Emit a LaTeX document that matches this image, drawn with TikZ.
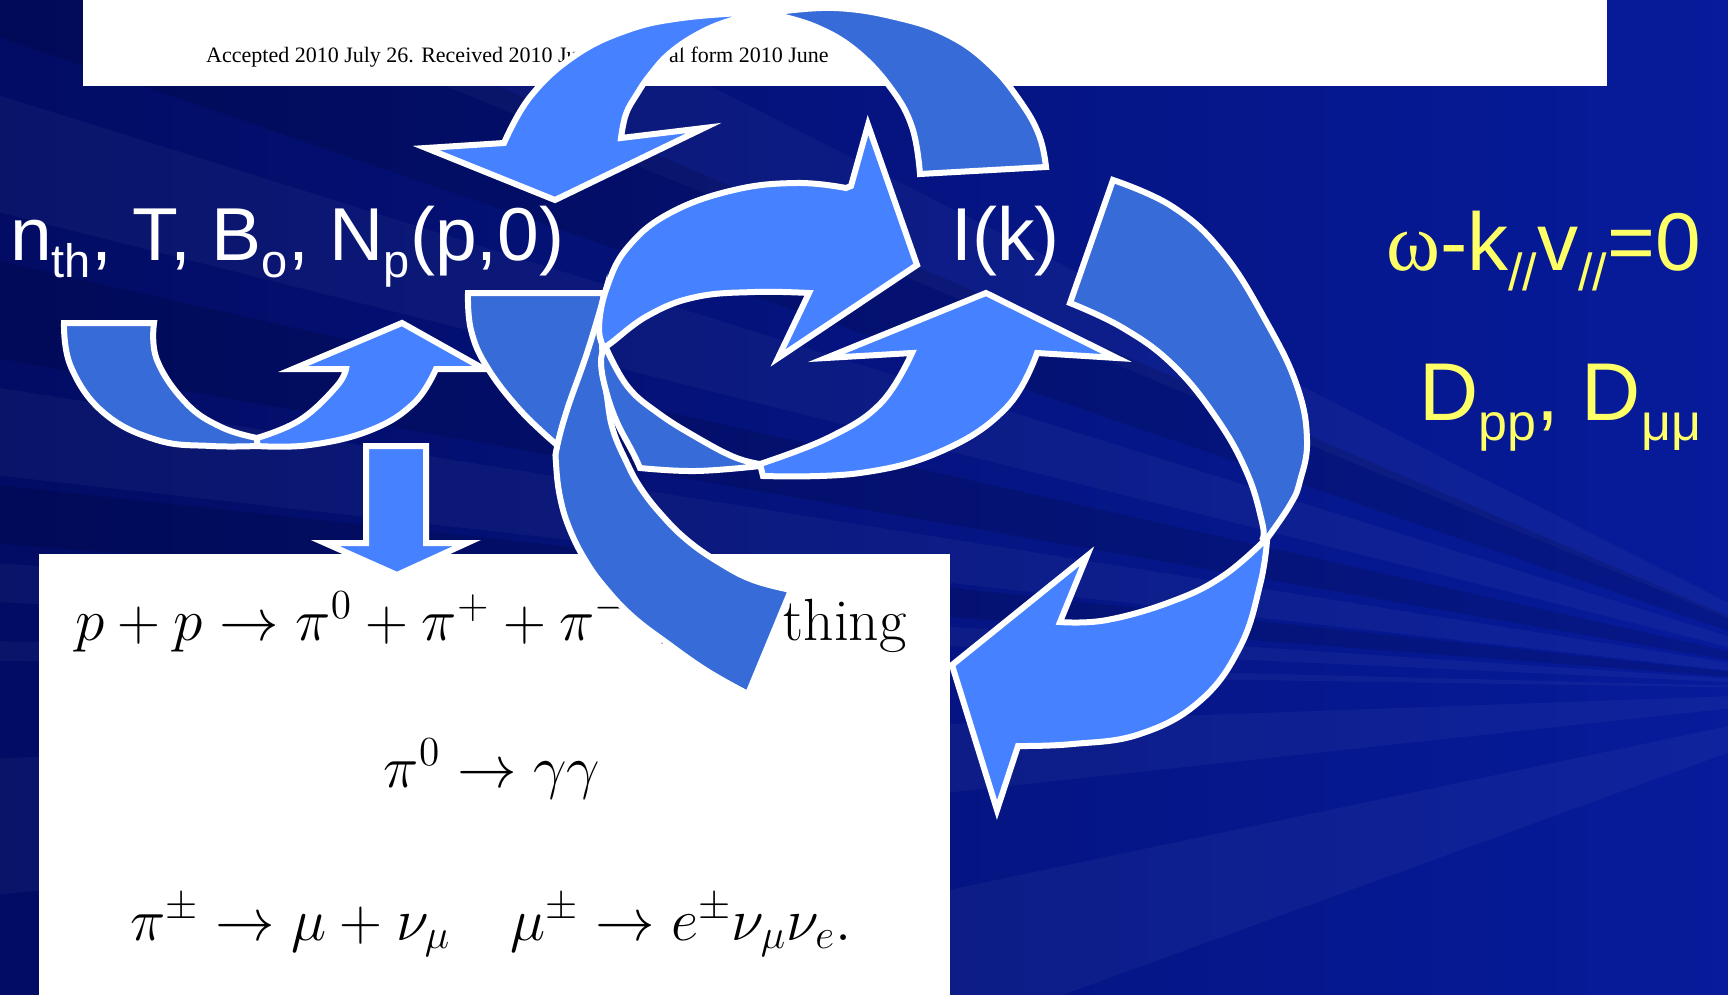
\documentclass[tikz,border=0pt]{standalone}
\usepackage{fontspec}
\newfontfamily\arialf{Liberation Sans}
\newfontfamily\timesf{Liberation Serif}
\definecolor{lightb}{RGB}{70,130,255}
\definecolor{darkb}{RGB}{55,107,215}
\definecolor{bgA}{RGB}{2,12,100}
\definecolor{bgB}{RGB}{7,27,155}
\definecolor{yel}{RGB}{255,255,102}
\newcommand\wsub[1]{\raisebox{-17pt}{\fontsize{47}{47}\selectfont #1}}
\newcommand\ysub[1]{\raisebox{-20pt}{\fontsize{52}{52}\selectfont #1}}
\begin{document}
\begin{tikzpicture}[x=1pt,y=-1pt,
  every plot/.style={smooth,tension=0.7},
  lightarr/.style={fill=lightb,draw=white,line width=6pt},
  darkarr/.style={fill=darkb,draw=white,line width=6pt},
  wlab/.style={text=white,font=\arialf\fontsize{75}{80}\selectfont,inner sep=0pt,anchor=base west},
  ylab/.style={text=yel,font=\arialf\fontsize{82}{90}\selectfont,inner sep=0pt,anchor=base west},
  eq/.style={text=black,font=\fontsize{20.74}{24}\selectfont,inner sep=0pt,anchor=base,scale=2.87},
  papertxt/.style={text=black,font=\timesf\fontsize{22}{24}\selectfont,inner sep=0pt,anchor=base west},
  ray/.style={fill=white,opacity=0.035},
  shadowray/.style={fill=black,opacity=0.12}]
\useasboundingbox (0,0) rectangle (1728,995);
% background
\shade[left color=bgA,right color=bgB] (0,0) rectangle (1728,995);
\coordinate (O) at (1900,690);
\foreach \p/\q in {-300/-120,80/200,380/470,560/600,640/660,760/900,1100/1400}
  {\fill[ray] (O) -- (-50,\p) -- (-50,\q) -- cycle;}
\foreach \p/\q in {-150/20,250/350,480/540}
  {\fill[shadowray] (O) -- (-50,\p) -- (-50,\q) -- cycle;}
% paper clippings
\fill[white] (83,0) rectangle (1607,86);
\node[papertxt] (acc1) at (206,63) {Accepted 2010 July 26. Received 2010 Ju};
\node[papertxt] (acc2) at (669,63) {al form 2010 June};
\fill[white] (39,554) rectangle (950,1000);
\node[eq] (eq1) at (491,640) {$p+p\to\pi^0+\pi^++\pi^-+\mbox{anything}$};
\node[eq] (eq2) at (492,787) {$\pi^0\to\gamma\gamma$};
\node[eq] (eq3) at (491,940) {$\pi^\pm\to\mu+\nu_\mu\quad\mu^\pm\to e^\pm\nu_\mu\nu_e.$};
% arrow A (top loop)
\draw[darkarr] plot coordinates {(770,13) (834,8) (899,18) (950,36) (990,65) (1020,101) (1039,135) (1046,167)}
  -- (920,174) -- plot coordinates {(920,174) (912,127) (890,87) (855,50) (816,27) (776,15)} -- cycle;
\draw[lightarr] (504,143) -- (426,148) -- (555,200) -- (704,128) -- (621,138)
  -- plot coordinates {(621,138) (626,114) (637,94) (650,75) (670,53) (700,33) (732,20) (765,13)}
  -- plot coordinates {(760,12) (682,18) (625,31) (573,57) (530,97) (504,143)} -- cycle;
% left U arrow
\draw[darkarr] (64,323) -- (154,323)
  -- plot coordinates {(154,323) (157,360) (186,403) (221,427) (257,438)}
  -- (257,446) -- plot coordinates {(257,446) (211,446) (157,440) (104,413) (71,367) (64,323)} -- cycle;
\draw[lightarr] plot coordinates {(257,438) (300,420) (336,387) (346,369)}
  -- (293,369) -- (402,323) -- (484,369) -- (436,369)
  -- plot coordinates {(436,369) (414,403) (371,430) (310,445) (257,446)} -- cycle;
% down arrow
\draw[lightarr] (366,446) -- (426,446) -- (426,543) -- (467,543) -- (397,575) -- (325,543) -- (366,543) -- cycle;
% dark tail and band D
\draw[darkarr] (468,293) -- (604,293) -- (600,318) -- (557,445)
  -- plot coordinates {(557,445) (520,410) (487,367) (471,330) (468,293)} -- cycle;
\draw[darkarr] plot coordinates {(603,300) (587,353) (567,410) (557,447) (556,463) (560,497) (570,530) (587,563) (607,590) (633,617) (667,643) (707,671) (748,694)}
  -- (791,590) -- plot coordinates {(791,590) (753,580) (720,563) (687,540) (660,513) (640,487) (627,463) (613,430) (607,397) (603,363) (602,330) (603,300)} -- cycle;
% circle arrows
\draw[darkarr] plot coordinates {(604,348) (601,362) (605,387) (616,420) (633,453) (640,468)}
  -- plot coordinates {(640,468) (696,471) (760,466)}
  -- plot coordinates {(760,464) (734,457) (696,437) (658,413) (628,387) (607,350)} -- cycle;
\draw[lightarr] plot coordinates {(604,348) (599,327) (607,287) (628,247) (670,213) (734,190) (797,183) (846,188)}
  -- (851,186) -- (868,125) -- (917,265) -- (778,358) -- (809,293)
  -- plot coordinates {(809,293) (755,292) (696,297) (649,315) (611,343) (604,348)} -- cycle;
\draw[lightarr] plot coordinates {(760,464) (830,437) (881,403) (912,353)}
  -- (826,358) -- (986,293) -- (1117,358) -- (1037,353)
  -- plot coordinates {(1037,353) (1007,407) (944,450) (860,473) (763,476)} -- cycle;
% right big arrow E
\draw[darkarr] (1070,303) -- (1113,180)
  -- plot coordinates {(1113,180) (1173,207) (1223,253) (1267,323) (1297,386) (1307,440) (1300,481) (1290,505) (1266,540)}
  -- plot coordinates {(1263,538) (1262,522) (1247,473) (1217,419) (1173,365) (1123,328) (1070,303)} -- cycle;
\draw[lightarr] plot coordinates {(1265,540) (1223,576) (1173,601) (1107,620) (1060,622)}
  -- (1087,556) -- (952,665) -- (997,810) -- (1018,746)
  -- plot coordinates {(1018,746) (1073,744) (1140,734) (1200,701) (1240,647) (1260,585) (1267,541)} -- cycle;
% labels
\node[wlab] (params) at (10,260) {n\wsub{th}, T, B\wsub{o}, N\wsub{p}(p,0)};
\node[wlab] (ik) at (951,260) {I(k)};
\node[ylab] (res) at (1386,270) {{\timesf ω}-k\ysub{//}v\ysub{//}=0};
\node[ylab] (diff) at (1419,420) {D\ysub{pp}, D\ysub{μμ}};
\end{tikzpicture}
\end{document}
